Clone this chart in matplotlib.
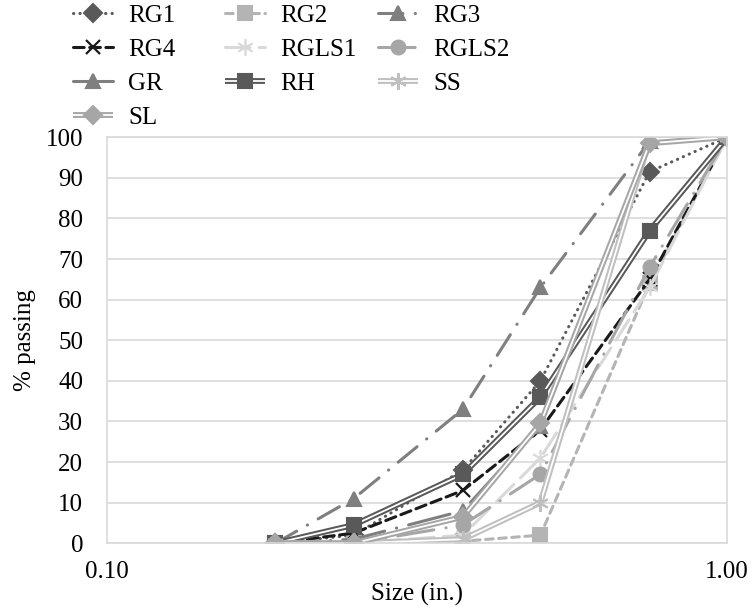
import matplotlib.pyplot as plt
from matplotlib.ticker import FixedLocator, NullLocator

plt.rcParams['font.family'] = ['Liberation Serif', 'DejaVu Serif']

# sieve sizes (in.)
sizes = [0.187, 0.25, 0.375, 0.5, 0.75, 1.0]

rg1 = [0, 2, 18, 40, 91.5, 100]
rg2 = [0, 0, 0.5, 2, 64, 100]
rg3 = [0, 11, 33, 63, 99, 100]
rg4 = [0, 2.5, 13, 28, 65, 100]
rgls1 = [0, 0, 2, 21, 63, 100]
rgls2 = [0, 0, 4.5, 17, 68, 100]
gr = [0, 1, 8, 29, 99, 100]
rh = [0, 4.5, 17, 36, 77, 100]
ss = [0, 0, 1, 10, 99.5, 100]
sl = [0, 0, 6.5, 29.5, 98.5, 100]

fig = plt.figure(figsize=(7.52, 6.07), dpi=100)
ax = fig.add_axes([0.142, 0.105, 0.825, 0.669])

handles = {}


def single(name, y, color, dashes, marker, ms=10, lw=2.2, mew=1.5):
    ln, = ax.plot(sizes, y, color=color, lw=lw, dashes=dashes, marker=marker,
                  ms=ms, mec=color, mfc=color, mew=mew,
                  dash_capstyle='round', solid_capstyle='round')
    handles[name] = ln


def double(name, y, color, marker, ms=10):
    outer, = ax.plot(sizes, y, color=color, lw=4.2, solid_capstyle='butt')
    inner, = ax.plot(sizes, y, color='white', lw=1.3, solid_capstyle='butt')
    mk, = ax.plot(sizes, y, ls='none', marker=marker, ms=ms, mec=color, mfc=color, mew=1.5)
    handles[name] = (outer, inner, mk)


single('RG1', rg1, '#595959', (0.1, 2.0), 'D', ms=9)
single('RG2', rg2, '#b4b4b4', (2.5, 1.8), 's')
single('RG3', rg3, '#7f7f7f', (8, 4, 0.1, 4), '^')
single('RG4', rg4, '#1a1a1a', (3.5, 1.8), 'x', mew=1.6)
single('RGLS1', rgls1, '#d9d9d9', (8, 3), (6, 2, 0), ms=12, mew=1.2)
single('RGLS2', rgls2, '#a6a6a6', (12, 4, 0.1, 4), 'o')
single('GR', gr, '#7f7f7f', (14, 4, 0.1, 4), '^')
double('RH', rh, '#595959', 's')
double('SS', ss, '#bfbfbf', (6, 2, 0), ms=12)
double('SL', sl, '#a6a6a6', 'D', ms=9)

ax.set_xscale('log')
ax.set_xlim(0.1, 1.0)
ax.set_ylim(0, 100)
ax.xaxis.set_major_locator(FixedLocator([0.1, 1.0]))
ax.xaxis.set_minor_locator(NullLocator())
ax.set_xticklabels(['0.10', '1.00'])
ax.set_yticks(range(0, 101, 10))
ax.tick_params(length=0, labelsize=18)
ax.tick_params(axis='y', pad=17)
ax.tick_params(axis='x', pad=13)
ax.grid(axis='y', color='#d9d9d9', lw=1.2)
ax.set_axisbelow(True)
for s in ax.spines.values():
    s.set_color('#d9d9d9')
    s.set_linewidth(1.2)
ax.set_xlabel('Size (in.)', fontsize=18, labelpad=0)
ax.set_ylabel('% passing', fontsize=18, labelpad=7)

# legend laid out as three fixed-width columns, filled row by row
columns = [['RG1', 'RG4', 'GR', 'SL'], ['RG2', 'RGLS1', 'RH'], ['RG3', 'RGLS2', 'SS']]
col_x = [0.097, 0.299, 0.503]
for names, x0 in zip(columns, col_x):
    fig.legend([handles[k] for k in names], names, loc='upper left',
               bbox_to_anchor=(x0, 0.993), frameon=False, fontsize=18,
               handlelength=1.6, handletextpad=0.6, labelspacing=0.46,
               borderpad=0, borderaxespad=0)

fig.savefig('out.png', dpi=100)
